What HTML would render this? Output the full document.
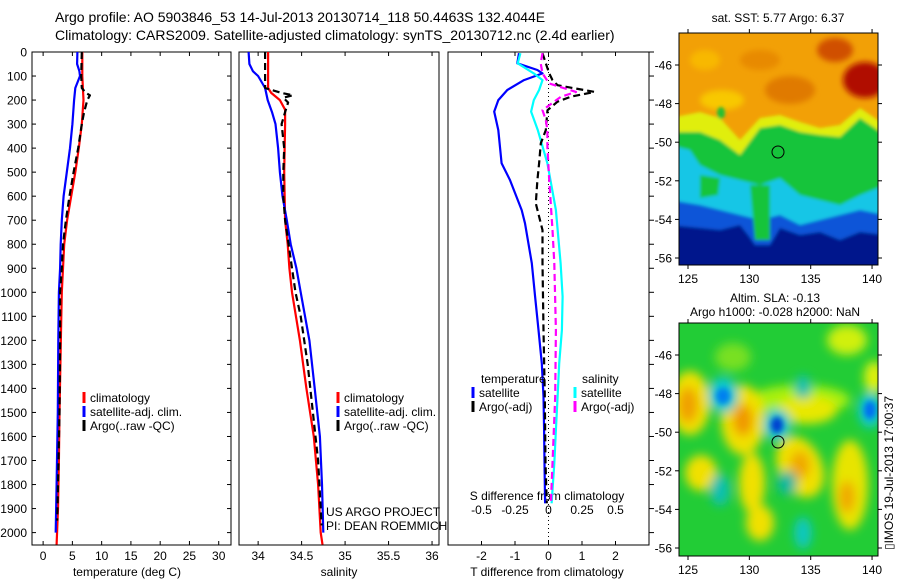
<!DOCTYPE html>
<html><head><meta charset="utf-8"><style>
html,body{margin:0;padding:0;background:#fff;}
svg{display:block;font-family:"Liberation Sans",Arial,sans-serif;}
</style></head><body>
<svg id="fig" width="900" height="580" viewBox="0 0 900 580" xmlns="http://www.w3.org/2000/svg">
<defs>
<filter id="blur2" x="-10%" y="-10%" width="120%" height="120%"><feGaussianBlur stdDeviation="1.5"/></filter>
<filter id="blur3" x="-20%" y="-20%" width="140%" height="140%"><feGaussianBlur stdDeviation="3"/></filter>
<filter id="blur5" x="-30%" y="-30%" width="160%" height="160%"><feGaussianBlur stdDeviation="5"/></filter>
<clipPath id="clipMap1"><rect x="679" y="33" width="199" height="232"/></clipPath>
<clipPath id="clipMap2"><rect x="679" y="323" width="199" height="233"/></clipPath>
</defs>
<text x="55" y="22" font-size="14">Argo profile: AO 5903846_53 14-Jul-2013 20130714_118 50.4463S 132.4044E</text>
<text x="55" y="40" font-size="14">Climatology: CARS2009. Satellite-adjusted climatology: synTS_20130712.nc (2.4d earlier)</text>

<!-- Map 1: SST -->
<g clip-path="url(#clipMap1)">
<rect x="670" y="25" width="215" height="250" fill="#f2a006"/>
<g filter="url(#blur3)">
<ellipse cx="790" cy="90" rx="25" ry="14" fill="#e07a05"/>
<ellipse cx="835" cy="50" rx="18" ry="12" fill="#d05000"/>
<ellipse cx="760" cy="60" rx="20" ry="10" fill="#e88a04"/>
<ellipse cx="705" cy="60" rx="15" ry="10" fill="#f8b800"/>
<ellipse cx="722" cy="100" rx="22" ry="10" fill="#f8c800"/>
<ellipse cx="865" cy="80" rx="22" ry="18" fill="#b01000"/>
</g>
<g filter="url(#blur2)">
<path d="M670,118 L700,112 L720,118 L740,140 L760,118 L780,115 L800,122 L820,128 L840,125 L860,108 L885,125 L885,280 L670,280 Z" fill="#e0ee10"/>
<path d="M670,132 L700,132 L720,140 L740,155 L760,128 L780,125 L800,132 L820,135 L840,137 L860,118 L885,135 L885,280 L670,280 Z" fill="#12c43a"/>
<path d="M670,145 L690,150 L700,165 L720,175 L740,180 L760,185 L780,178 L800,195 L820,200 L840,205 L860,195 L885,185 L885,280 L670,280 Z" fill="#13c6e6"/>
<path d="M700,175 L720,178 L718,195 L700,198 Z" fill="#12c43a"/>
<path d="M670,200 L700,205 L720,210 L740,215 L760,220 L780,215 L800,225 L820,220 L840,215 L860,210 L885,215 L885,280 L670,280 Z" fill="#0a55d8"/>
<path d="M670,225 L700,228 L720,230 L740,225 L748,235 L755,245 L770,245 L780,228 L800,235 L820,232 L840,240 L860,232 L885,235 L885,280 L670,280 Z" fill="#00128c"/>
<path d="M750,185 L770,185 L770,240 L755,240 Z" fill="#12c43a"/>
<ellipse cx="721" cy="113" rx="4" ry="6" fill="#28c030"/>
</g>
</g>
<rect x="679" y="33" width="199" height="232" fill="none" stroke="#000"/>
<circle cx="778" cy="152" r="6" fill="none" stroke="#000"/>
<text x="778" y="22" font-size="12" text-anchor="middle">sat. SST: 5.77 Argo: 6.37</text>

<!-- Map 2: SLA -->
<g clip-path="url(#clipMap2)">
<rect x="679" y="323" width="199" height="233" fill="#22cc36"/>
<g filter="url(#blur5)">
<ellipse cx="733" cy="357" rx="18" ry="14" fill="#78e020"/>
<ellipse cx="800" cy="400" rx="50" ry="15" fill="#a8f010"/>
<ellipse cx="847" cy="340" rx="20" ry="15" fill="#d0f010"/>
<ellipse cx="874" cy="377" rx="10" ry="16" fill="#e0f010"/>
<ellipse cx="690" cy="403" rx="20" ry="32" fill="#f0e000"/>
<ellipse cx="688" cy="405" rx="10" ry="18" fill="#f0a000"/>
<ellipse cx="743" cy="420" rx="22" ry="35" fill="#f0e000"/>
<ellipse cx="743" cy="420" rx="10" ry="16" fill="#f09800"/>
<ellipse cx="807" cy="410" rx="30" ry="14" fill="#e8e800"/>
<ellipse cx="800" cy="467" rx="22" ry="32" fill="#f0e000" transform="rotate(-25 800 467)"/>
<ellipse cx="800" cy="465" rx="10" ry="14" fill="#f0a800"/>
<ellipse cx="850" cy="485" rx="18" ry="45" fill="#e8e400"/>
<ellipse cx="847" cy="497" rx="8" ry="16" fill="#f0a800"/>
<ellipse cx="701" cy="473" rx="16" ry="18" fill="#f0e000"/>
<ellipse cx="752" cy="483" rx="13" ry="30" fill="#f0e000"/>
<ellipse cx="760" cy="523" rx="14" ry="18" fill="#f0e000"/>
<ellipse cx="803" cy="387" rx="8" ry="12" fill="#10c0b0"/>
<ellipse cx="720" cy="490" rx="10" ry="16" fill="#10c0b0"/>
<ellipse cx="803" cy="533" rx="9" ry="16" fill="#10c8c0"/>
<ellipse cx="787" cy="483" rx="10" ry="12" fill="#10b8a0"/>
<ellipse cx="723" cy="395" rx="15" ry="18" fill="#10c8d0"/>
<ellipse cx="870" cy="410" rx="12" ry="18" fill="#10c8d0"/>
<ellipse cx="777" cy="425" rx="14" ry="16" fill="#10c8d0"/>
</g>
<g filter="url(#blur3)">
<ellipse cx="723" cy="396" rx="7" ry="8" fill="#0080f0"/>
<ellipse cx="870" cy="410" rx="6" ry="9" fill="#0070f0"/>
<ellipse cx="777" cy="425" rx="6" ry="8" fill="#0040d0"/>
</g>
</g>
<rect x="679" y="323" width="199" height="233" fill="none" stroke="#000"/>
<circle cx="778" cy="442" r="6" fill="none" stroke="#000"/>
<text x="775" y="302" font-size="12" text-anchor="middle">Altim. SLA: -0.13</text>
<text x="775" y="316" font-size="12" text-anchor="middle">Argo h1000: -0.028 h2000: NaN</text>
<text transform="translate(893,550) rotate(-90)" font-size="12">▯IMOS 19-Jul-2013 17:00:37</text>
<g id="plots"></g>
</svg>
<script>
// ---- profile data (depth in dbar) ----
const tempClimDepth = [0,100,150,200,300,400,500,600,700,800,900,1000,1100,1300,1500,1700,1900,2050];
const tempClim      = [6.7,6.7,6.8,6.9,6.6,6.1,5.5,4.8,4.1,3.6,3.4,3.2,3.1,2.95,2.8,2.7,2.55,2.3];
const tempSatDepth  = [0,50,80,100,150,200,300,400,500,600,700,800,900,1000,1200,1500,1800,2000];
const tempSat       = [5.85,5.8,6.2,6.3,5.5,5.3,5.0,4.6,4.05,3.5,3.2,3.0,2.9,2.7,2.6,2.5,2.3,2.15];
const tempArgoDepth = [0,100,150,170,180,200,250,300,400,500,600,700,800,900,1000,1200,1500,1800,1950];
const tempArgo      = [6.6,6.5,6.6,7.3,8.0,7.55,7.0,6.6,6.0,5.2,4.5,3.9,3.4,3.2,2.9,2.9,2.8,2.55,2.4];

const salClimDepth  = [0,150,170,200,240,300,500,700,800,900,1000,1200,1400,1600,1800,2000,2050];
const salClim       = [34.115,34.115,34.15,34.25,34.31,34.31,34.30,34.31,34.34,34.36,34.39,34.48,34.555,34.64,34.69,34.72,34.74];
const salSatDepth   = [0,50,80,100,150,200,250,300,400,500,600,700,800,900,1000,1200,1400,1600,1800,2000];
const salSat        = [33.89,33.9,33.94,34.0,34.08,34.11,34.16,34.2,34.23,34.25,34.28,34.33,34.375,34.44,34.49,34.59,34.65,34.71,34.735,34.75];
const salArgoDepth  = [0,150,170,180,190,210,250,300,400,500,600,700,800,900,1000,1100,1300,1500,1700,1900,1970];
const salArgo       = [34.08,34.08,34.27,34.40,34.29,34.345,34.31,34.27,34.30,34.29,34.29,34.31,34.35,34.39,34.43,34.49,34.57,34.63,34.69,34.72,34.73];

const tDiffSatDepth = [5,47,75,89,117,158,200,248,325,463,533,658,713,879,1018,1157,1296,1434,1573,1712,1878];
const tDiffSat      = [-0.88,-0.93,-0.33,-0.18,-0.73,-1.23,-1.5,-1.62,-1.5,-1.4,-1.15,-0.8,-0.7,-0.5,-0.4,-0.3,-0.2,-0.15,-0.13,-0.12,-0.1];
const sDiffSatDepth = [5,47,89,117,158,200,248,325,463,658,879,1018,1157,1296,1434,1573,1712,1878];
const sDiffSat      = [-0.21,-0.23,-0.11,-0.045,-0.07,-0.11,-0.13,-0.08,-0.008,0.055,0.09,0.105,0.1,0.08,0.068,0.055,0.043,0.023];
const tDiffArgoDepth= [5,47,89,117,138,166,186,207,242,325,380,463,533,630,741,879,1157,1434,1712,1878];
const tDiffArgo     = [-0.18,-0.08,0.02,0.12,0.27,1.37,0.67,0.27,-0.03,-0.08,-0.23,-0.28,-0.33,-0.38,-0.18,-0.18,-0.15,-0.11,-0.09,-0.05];
const sDiffArgoDepth= [5,47,89,131,166,186,242,283,325,394,533,741,879,1157,1434,1712,1878];
const sDiffArgo     = [-0.045,-0.058,-0.045,0.005,0.205,0.093,-0.045,-0.02,-0.008,-0.008,0.005,0.03,0.043,0.055,0.05,0.03,0.018];

const depthTicks = [0,100,200,300,400,500,600,700,800,900,1000,1100,1200,1300,1400,1500,1600,1700,1800,1900,2000];
const tempTicks = [0,5,10,15,20,25,30];
const salTicks = [34,34.5,35,35.5,36];
const tDiffTicks = [-2,-1,0,1,2];
const sDiffTicks = [-0.5,-0.25,0,0.25,0.5];
const lonTicks = [125,130,135,140];
const latTicks = [-46,-48,-50,-52,-54,-56];

const NS = "http://www.w3.org/2000/svg";
const root = document.getElementById('plots');
function mk(tag, attrs, parent){ const e=document.createElementNS(NS,tag); for(const k in attrs) e.setAttribute(k,attrs[k]); (parent||root).appendChild(e); return e; }

const TOP=52, BOT=545;
function yDepth(d){ return TOP + d*0.2403; }

const panels = [
  {x0:32,x1:231,v0:-1.9,v1:32.1},
  {x0:239,x1:439,v0:33.78,v1:36.08},
  {x0:448,x1:649,v0:-3,v1:3}
];
function xs(p,v){ const P=panels[p]; return P.x0+(v-P.v0)/(P.v1-P.v0)*(P.x1-P.x0); }

panels.forEach((P,i)=>{
  const r = mk('rect',{x:P.x0,y:TOP,width:P.x1-P.x0,height:BOT-TOP,fill:'none',stroke:'#000'});
  
  
});

depthTicks.forEach(d=>{
  const y=yDepth(d);
  const t=mk('text',{x:27,y:y+4.5,'font-size':12,'text-anchor':'end'}); t.textContent=d;
  
  
  mk('line',{x1:32,x2:36,y1:y,y2:y,stroke:'#000'});
  mk('line',{x1:227,x2:231,y1:y,y2:y,stroke:'#000'});
  mk('line',{x1:649,x2:654,y1:y,y2:y,stroke:'#000'});
});

function xTicks(p,ticks,labelY){
  ticks.forEach(v=>{
    const x=xs(p,v);
    mk('line',{x1:x,x2:x,y1:BOT,y2:BOT-4,stroke:'#000'});
    mk('line',{x1:x,x2:x,y1:TOP,y2:TOP+4,stroke:'#000'});
    const t=mk('text',{x:x,y:labelY,'font-size':12,'text-anchor':'middle'}); t.textContent=v;
    
    
  });
}
xTicks(0,tempTicks,560);
xTicks(1,salTicks,560);
xTicks(2,tDiffTicks,560);
sDiffTicks.forEach(v=>{
  const x=xs(2,v*4);
  const t=mk('text',{x:x,y:514,'font-size':12,'text-anchor':'middle'}); t.textContent=v;
  
  
});

function label(x,y,txt,name,anchor){
  const t=mk('text',{x:x,y:y,'font-size':12,'text-anchor':anchor||'start'}); t.textContent=txt;
  
  
}
label(127,576,'temperature (deg C)','x-axis-title-temperature','middle');
label(339,576,'salinity','x-axis-title-salinity','middle');
label(547,576,'T difference from climatology','x-axis-title-t-diff','middle');
label(547,500,'S difference from climatology','s-diff-axis-title','middle');

const z=mk('line',{x1:xs(2,0),x2:xs(2,0),y1:TOP,y2:BOT,stroke:'#000','stroke-dasharray':'1,3'});



function series(p,depths,vals,color,dash,name,scale){
  const pts=depths.map((d,i)=>xs(p,vals[i]*(scale||1)).toFixed(1)+','+yDepth(d).toFixed(1)).join(' ');
  const a={points:pts,fill:'none',stroke:color,'stroke-width':2.2,'stroke-linejoin':'round'};
  if(dash) a['stroke-dasharray']=dash;
  const e=mk('polyline',a);
  
  
}
series(0,tempClimDepth,tempClim,'#ff0000',null,'temp-climatology-line');
series(0,tempSatDepth,tempSat,'#0000ff',null,'temp-satellite-line');
series(0,tempArgoDepth,tempArgo,'#000',"7,4",'temp-argo-line');
series(1,salClimDepth,salClim,'#ff0000',null,'salinity-climatology-line');
series(1,salSatDepth,salSat,'#0000ff',null,'salinity-satellite-line');
series(1,salArgoDepth,salArgo,'#000',"7,4",'salinity-argo-line');
series(2,tDiffSatDepth,tDiffSat,'#0000ff',null,'t-diff-satellite-line');
series(2,sDiffSatDepth,sDiffSat,'#00ffff',null,'s-diff-satellite-line',4);
series(2,tDiffArgoDepth,tDiffArgo,'#000',"7,4",'t-diff-argo-line');
series(2,sDiffArgoDepth,sDiffArgo,'#ff00ff',"7,4",'s-diff-argo-line',4);

function legendEntry(x,y,color,txt,name){
  const m=mk('line',{x1:x,x2:x,y1:y-10,y2:y+1,stroke:color,'stroke-width':3});
  
  
  label(x+6,y,txt,name);
}
legendEntry(84,402,'#ff0000','climatology','legend-climatology');
legendEntry(84,416,'#0000ff','satellite-adj. clim.','legend-satellite-adj');
legendEntry(84,430,'#000','Argo(..raw -QC)','legend-argo');
legendEntry(338,402,'#ff0000','climatology','legend-climatology-sal');
legendEntry(338,416,'#0000ff','satellite-adj. clim.','legend-satellite-adj-sal');
legendEntry(338,430,'#000','Argo(..raw -QC)','legend-argo-sal');
label(481,383,'temperature','legend-temperature-header');
legendEntry(473,397,'#0000ff','satellite','legend-t-satellite');
legendEntry(473,411,'#000','Argo(-adj)','legend-t-argo');
label(582,383,'salinity','legend-salinity-header');
legendEntry(575,397,'#00ffff','satellite','legend-s-satellite');
legendEntry(575,411,'#ff00ff','Argo(-adj)','legend-s-argo');
label(326,516,'US ARGO PROJECT','project-label');
label(326,530,'PI: DEAN ROEMMICH','pi-label');

function mapAxes(y0,y1,latY46){
  lonTicks.forEach(v=>{
    const x=688+(v-125)*12.27;
    mk('line',{x1:x,x2:x,y1:y0,y2:y0-4,stroke:'#000'});
    mk('line',{x1:x,x2:x,y1:y1,y2:y1+4,stroke:'#000'});
    label(x,y1+18,v,'lon-tick-label','middle');
  });
  latTicks.forEach(v=>{
    const y=latY46+(-46-v)*19.3;
    mk('line',{x1:679,x2:675,y1:y,y2:y,stroke:'#000'});
    mk('line',{x1:878,x2:882,y1:y,y2:y,stroke:'#000'});
    label(672,y+4.5,v,'lat-tick-label','end');
  });
}
mapAxes(33,265,65);
mapAxes(323,556,355);
</script>
</body></html>
